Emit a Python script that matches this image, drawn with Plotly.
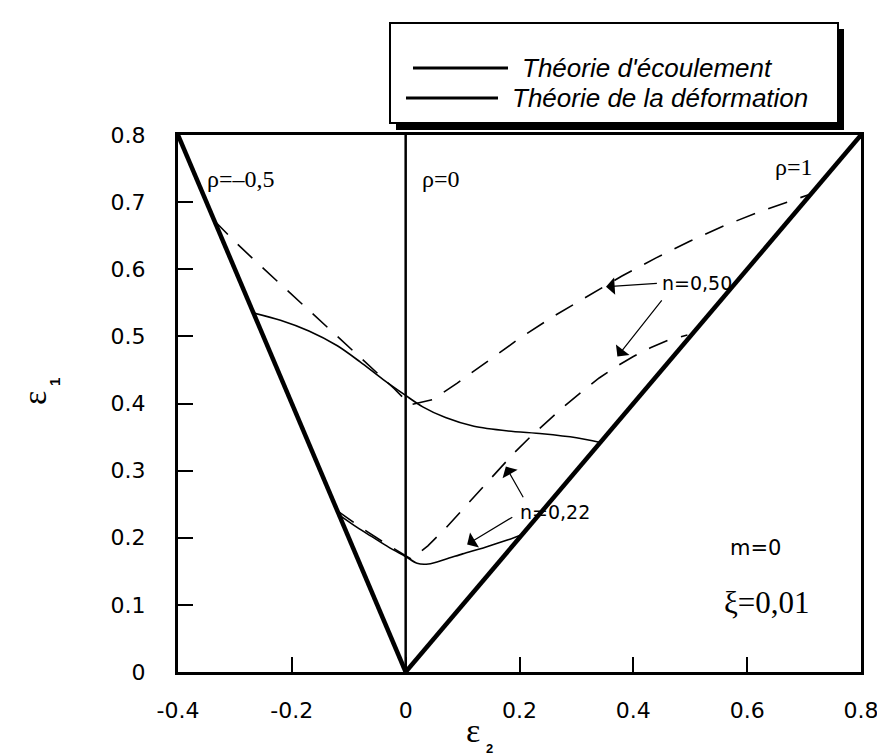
import plotly.graph_objects as go

# ---------------- data ----------------
x_ticks = [-0.4, -0.2, 0, 0.2, 0.4, 0.6, 0.8]
x_ticktext = ["-0.4", "-0.2", "0", "0.2", "0.4", "0.6", "0.8"]
y_ticks = [0, 0.1, 0.2, 0.3, 0.4, 0.5, 0.6, 0.7, 0.8]
y_ticktext = ["0", "0.1", "0.2", "0.3", "0.4", "0.5", "0.6", "0.7", "0.8"]

# strain-path limit lines
rho_m05_x = [-0.4, 0.0]
rho_m05_y = [0.8, 0.0]
rho_0_x = [0.0, 0.0]
rho_0_y = [0.0, 0.8]
rho_1_x = [0.0, 0.8]
rho_1_y = [0.0, 0.8]

# n = 0.50, solid
n050_solid_x = [-0.268, -0.22, -0.17, -0.12, -0.08, -0.04, 0.0, 0.03, 0.07, 0.12, 0.18, 0.24, 0.30, 0.342]
n050_solid_y = [0.535, 0.524, 0.508, 0.486, 0.462, 0.436, 0.412, 0.395, 0.379, 0.366, 0.359, 0.355, 0.349, 0.342]

# n = 0.50, dashed
n050_dash_x = [-0.337, -0.30, -0.26, -0.22, -0.18, -0.14, -0.10, -0.06, -0.02, 0.008,
               0.048, 0.09, 0.14, 0.20, 0.26, 0.32, 0.38, 0.44, 0.50, 0.56, 0.62, 0.67, 0.712]
n050_dash_y = [0.673, 0.641, 0.609, 0.578, 0.547, 0.516, 0.485, 0.454, 0.422, 0.398,
               0.406, 0.43, 0.46, 0.497, 0.53, 0.56, 0.59, 0.617, 0.642, 0.665, 0.685, 0.70, 0.712]

# n = 0.22, solid
n022_solid_x = [-0.117, -0.09, -0.06, -0.03, 0.0, 0.02, 0.04, 0.07, 0.10, 0.14, 0.18, 0.205]
n022_solid_y = [0.234, 0.218, 0.202, 0.186, 0.172, 0.162, 0.161, 0.168, 0.176, 0.186, 0.197, 0.205]

# n = 0.22, dashed
n022_dash_x = [-0.12, -0.08, -0.04, 0.01, 0.039, 0.07, 0.10, 0.13, 0.16, 0.19, 0.22, 0.25,
               0.28, 0.31, 0.34, 0.37, 0.40, 0.43, 0.46, 0.495]
n022_dash_y = [0.24, 0.216, 0.194, 0.168, 0.188, 0.214, 0.242, 0.27, 0.298, 0.326, 0.351, 0.374,
               0.397, 0.418, 0.438, 0.455, 0.47, 0.483, 0.494, 0.502]

legend_labels = ["Théorie d'écoulement", "Théorie de la déformation"]

# ---------------- figure ----------------
W, H = 885, 756
ML, MR, MT, MB = 170, 32, 127, 92
PW, PH = W - ML - MR, H - MT - MB


def px(x):
    return (x - ML) / PW


def py(y):
    return (H - MB - y) / PH


fig = go.Figure()
thin = 1.6
fig.add_trace(go.Scatter(x=rho_m05_x, y=rho_m05_y, mode="lines", line=dict(color="black", width=4.5)))
fig.add_trace(go.Scatter(x=rho_0_x, y=rho_0_y, mode="lines", line=dict(color="black", width=2.5)))
fig.add_trace(go.Scatter(x=rho_1_x, y=rho_1_y, mode="lines", line=dict(color="black", width=4.5)))
fig.add_trace(go.Scatter(x=n050_solid_x, y=n050_solid_y, mode="lines",
                         line=dict(color="black", width=thin, shape="spline", smoothing=0.8)))
fig.add_trace(go.Scatter(x=n022_solid_x, y=n022_solid_y, mode="lines",
                         line=dict(color="black", width=thin, shape="spline", smoothing=0.8)))
fig.add_trace(go.Scatter(x=n050_dash_x, y=n050_dash_y, mode="lines",
                         line=dict(color="black", width=thin, dash="20px,14px")))
fig.add_trace(go.Scatter(x=n022_dash_x, y=n022_dash_y, mode="lines",
                         line=dict(color="black", width=thin, dash="20px,14px")))

serif = "Liberation Serif, Times New Roman, serif"
sans = "DejaVu Sans, sans-serif"
lsans = "Liberation Sans, Arial, sans-serif"

ann = []
# region labels
ann.append(dict(x=-0.352, y=0.735, text="ρ=–0,5", showarrow=False, xanchor="left", yanchor="middle",
                font=dict(family=serif, size=24, color="black")))
ann.append(dict(x=0.025, y=0.735, text="ρ=0", showarrow=False, xanchor="left", yanchor="middle",
                font=dict(family=serif, size=24, color="black")))
ann.append(dict(x=0.72, y=0.752, text="ρ=1", showarrow=False, xanchor="right", yanchor="middle",
                font=dict(family=serif, size=24, color="black")))
ann.append(dict(x=0.567, y=0.185, text="m=0", showarrow=False, xanchor="left", yanchor="middle",
                font=dict(family=sans, size=21, color="black")))
ann.append(dict(x=0.556, y=0.103, text="ξ=0,01", showarrow=False, xanchor="left", yanchor="middle",
                font=dict(family=serif, size=31, color="black")))
ann.append(dict(x=0.446, y=0.580, text="n=0,50", showarrow=False, xanchor="left", yanchor="middle",
                font=dict(family=sans, size=19, color="black")))
ann.append(dict(x=0.262, y=0.238, text="n=0,22", showarrow=False, xanchor="center", yanchor="middle",
                font=dict(family=sans, size=19, color="black")))

# arrows (tail -> head)
arrows = [((0.444, 0.579), (0.352, 0.574)),
          ((0.452, 0.556), (0.372, 0.470)),
          ((0.208, 0.258), (0.176, 0.306)),
          ((0.19, 0.232), (0.108, 0.190))]
for (tx, ty), (hx, hy) in arrows:
    ann.append(dict(x=hx, y=hy, ax=tx, ay=ty, xref="x", yref="y", axref="x", ayref="y",
                    showarrow=True, arrowhead=1, arrowsize=2.4, arrowwidth=1.2, arrowcolor="black",
                    text=""))

# axis titles
ann.append(dict(x=px(465), y=py(722), xref="paper", yref="paper", text="ε", showarrow=False,
                xanchor="center", yanchor="middle", font=dict(family=serif, size=34, color="black")))
ann.append(dict(x=px(481), y=py(740), xref="paper", yref="paper", text="<b>2</b>", showarrow=False,
                xanchor="center", yanchor="middle", font=dict(family=lsans, size=13, color="black")))
ann.append(dict(x=px(26), y=py(390), xref="paper", yref="paper", text="ε", showarrow=False,
                xanchor="center", yanchor="middle", textangle=-90,
                font=dict(family=serif, size=34, color="black")))
ann.append(dict(x=px(46), y=py(374), xref="paper", yref="paper", text="<b>1</b>", showarrow=False,
                xanchor="center", yanchor="middle", textangle=-90,
                font=dict(family=lsans, size=15, color="black")))

# legend text
ann.append(dict(x=px(512), y=py(60), xref="paper", yref="paper", text="<i>" + legend_labels[0] + "</i>",
                showarrow=False, xanchor="left", yanchor="middle",
                font=dict(family=lsans, size=26, color="black")))
ann.append(dict(x=px(502), y=py(90), xref="paper", yref="paper", text="<i>" + legend_labels[1] + "</i>",
                showarrow=False, xanchor="left", yanchor="middle",
                font=dict(family=lsans, size=26, color="black")))

shapes = []
# legend box + shadow
shapes.append(dict(type="rect", xref="paper", yref="paper", x0=px(388), x1=px(836), y0=py(122), y1=py(21),
                   fillcolor="black", line=dict(width=0), layer="above"))
shapes.append(dict(type="rect", xref="paper", yref="paper", x0=px(382), x1=px(830), y0=py(115), y1=py(15),
                   fillcolor="white", line=dict(color="black", width=2), layer="above"))
# legend sample lines
shapes.append(dict(type="line", xref="paper", yref="paper", x0=px(405), x1=px(500), y0=py(60), y1=py(60),
                   line=dict(color="black", width=3), layer="above"))
shapes.append(dict(type="line", xref="paper", yref="paper", x0=px(398), x1=px(490), y0=py(90), y1=py(90),
                   line=dict(color="black", width=3), layer="above"))

axis_common = dict(showgrid=False, zeroline=False, showline=True, mirror=True, linecolor="black",
                   linewidth=3, ticks="inside", tickcolor="black", tickwidth=1.5,
                   tickfont=dict(family=sans, size=22, color="black"))

fig.update_layout(
    width=W, height=H, margin=dict(l=ML, r=MR, t=MT, b=MB, autoexpand=False),
    paper_bgcolor="white", plot_bgcolor="white", showlegend=False,
    xaxis=dict(range=[-0.4, 0.8], tickvals=x_ticks, ticktext=x_ticktext, ticklen=15,
               ticklabelstandoff=17, **axis_common),
    yaxis=dict(range=[0, 0.8], tickvals=y_ticks, ticktext=y_ticktext, ticklen=15,
               ticklabelstandoff=25, **axis_common),
    annotations=ann, shapes=shapes,
)

fig.write_html("out.html")
